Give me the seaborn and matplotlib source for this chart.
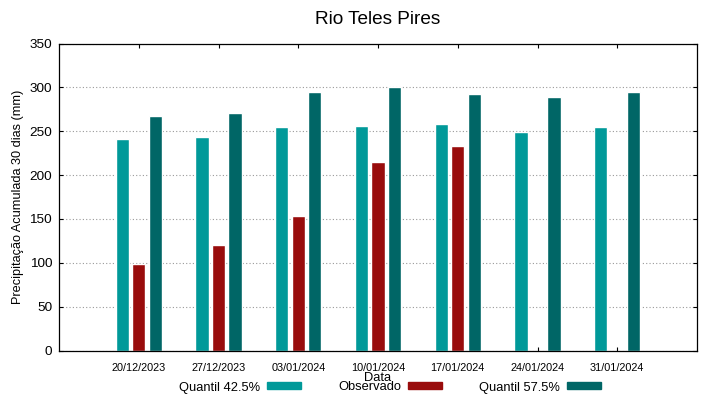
import numpy as np
import pandas as pd
import seaborn as sns
import matplotlib.pyplot as plt
from matplotlib.patches import Rectangle
from matplotlib.transforms import ScaledTranslation

# Dados
datas = ['20/12/2023', '27/12/2023', '03/01/2024', '10/01/2024',
         '17/01/2024', '24/01/2024', '31/01/2024']
quantil_425 = [241, 243, 255, 256, 258, 249.5, 254.5]
observado = [99, 120, 153.5, 215, 233, np.nan, np.nan]
quantil_575 = [267.5, 271, 294.5, 300, 292, 288.5, 294.5]

series = ['Quantil 42.5%', 'Observado', 'Quantil 57.5%']
cores = {'Quantil 42.5%': '#009999', 'Observado': '#990c0c', 'Quantil 57.5%': '#006666'}

df = pd.DataFrame({
    'Data': datas * 3,
    'serie': [series[0]] * 7 + [series[1]] * 7 + [series[2]] * 7,
    'valor': quantil_425 + observado + quantil_575,
})

sns.set_style('white')
plt.rcParams['font.family'] = ['Liberation Sans', 'DejaVu Sans']
plt.rcParams['text.color'] = 'black'
plt.rcParams['axes.labelcolor'] = 'black'
plt.rcParams['xtick.color'] = 'black'
plt.rcParams['ytick.color'] = 'black'

fig = plt.figure(figsize=(7.19, 3.99), dpi=100)
ax = fig.add_axes([59 / 719, 1 - 350.5 / 399, 638 / 719, 307 / 399])

sns.barplot(data=df, x='Data', y='valor', hue='serie', order=datas,
            hue_order=series, palette=cores, width=0.62, gap=0.2,
            saturation=1, legend=False, errorbar=None, ax=ax)

ax.set_xlim(-1, 7)
ax.set_ylim(0, 350)
ax.set_yticks(range(0, 351, 50))
ax.set_xticks(range(len(datas)))
ax.set_xticklabels(datas, fontsize=7.8)
for lab in ax.get_xticklabels():
    lab.set_transform(lab.get_transform() + ScaledTranslation(0.06, 0, fig.dpi_scale_trans))
ax.tick_params(axis='y', labelsize=9.7, pad=5)
ax.tick_params(axis='x', pad=9)
ax.tick_params(direction='in', length=3, width=0.8, top=True, right=True,
               bottom=True, left=True, color='black')

ax.set_axisbelow(True)
ax.yaxis.grid(True, linestyle=(0, (1, 2)), color='#999999', linewidth=0.8)
ax.xaxis.grid(False)
for s in ax.spines.values():
    s.set_color('black')
    s.set_linewidth(0.9)

ax.set_title('Rio Teles Pires', fontsize=13.7, pad=14)
ax.set_ylabel('Precipitação Acumulada 30 dias (mm)', fontsize=9.2)
ax.yaxis.label.set_va('center')
ax.yaxis.set_label_coords(-0.064, 0.5)
ax.set_xlabel('Data', fontsize=9.3)
ax.xaxis.label.set_va('center')
ax.xaxis.set_label_coords(0.5, -0.088)

handles = [Rectangle((0, 0), 1, 1, color=cores[s]) for s in series]
fig.legend(handles, series, loc='center', bbox_to_anchor=(390 / 719, 1 - 387.5 / 399),
           ncol=3, frameon=False, markerfirst=False, fontsize=9.3,
           handlelength=2.6, handleheight=0.45, handletextpad=0.55,
           columnspacing=2.9, borderpad=0)

fig.savefig('out.png', dpi=100)
